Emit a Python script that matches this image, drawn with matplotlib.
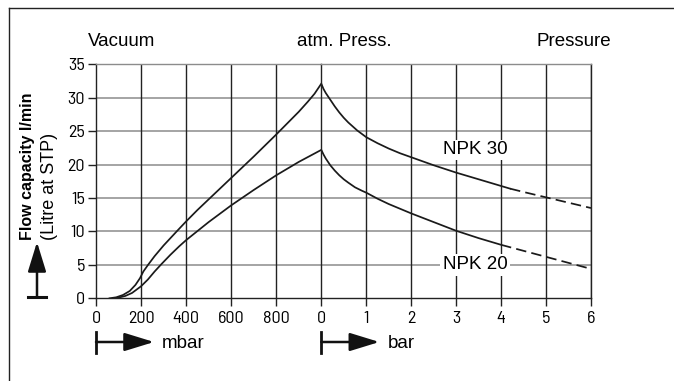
import matplotlib.pyplot as plt
from matplotlib.lines import Line2D
from matplotlib.patches import FancyArrowPatch

# NPK 30 - vacuum side (mbar) and pressure side (bar)
npk30_vac_mbar = [60, 90, 120, 150, 175, 195, 210, 231, 260, 300, 358, 400, 450, 500, 600, 700,
                  800, 850, 900, 940, 970, 1000]
npk30_vac_flow = [0, 0.15, 0.5, 1.1, 2.0, 3.0, 4.0, 5.0, 6.3, 7.9, 10.0, 11.5, 13.2, 14.8, 18.0,
                  21.2, 24.5, 26.2, 27.9, 29.4, 30.6, 32.1]
npk30_bar = [0, 0.05, 0.1, 0.2, 0.3, 0.4, 0.5, 0.6, 0.7, 0.8, 0.9, 1, 1.25, 1.5, 1.75, 2, 2.5,
             3, 3.5, 4, 4.2]
npk30_bar_flow = [32.1, 31.3, 30.7, 29.7, 28.7, 27.8, 27.0, 26.3, 25.7, 25.1, 24.6, 24.1, 23.2,
                  22.4, 21.7, 21.1, 19.9, 18.8, 17.8, 16.8, 16.4]
npk30_ext_bar = [4.2, 4.5, 5, 5.5, 6]
npk30_ext_flow = [16.4, 15.9, 15.1, 14.3, 13.5]

# NPK 20
npk20_vac_mbar = [76, 100, 130, 160, 200, 230, 260, 290, 330, 370, 400, 500, 600, 700, 800, 900,
                  950, 1000]
npk20_vac_flow = [0, 0.1, 0.35, 0.8, 1.8, 2.8, 4.0, 5.1, 6.5, 7.8, 8.7, 11.4, 13.9, 16.2, 18.4,
                  20.4, 21.3, 22.2]
npk20_bar = [0, 0.05, 0.1, 0.2, 0.3, 0.4, 0.5, 0.6, 0.75, 0.9, 1, 1.25, 1.5, 1.75, 2, 2.5, 3,
             3.5, 4]
npk20_bar_flow = [22.2, 21.5, 20.9, 19.9, 19.1, 18.4, 17.8, 17.3, 16.6, 16.1, 15.8, 14.9, 14.1,
                  13.4, 12.7, 11.4, 10.1, 9.0, 8.0]
npk20_ext_bar = [4, 4.5, 5, 5.5, 6]
npk20_ext_flow = [8.0, 7.1, 6.2, 5.3, 4.4]

mbar_ticks = [0, 200, 400, 600, 800]
bar_ticks = [0, 1, 2, 3, 4, 5, 6]
y_ticks = [0, 5, 10, 15, 20, 25, 30, 35]

W, H = 674, 381
plt.rcParams['font.family'] = ['Liberation Sans', 'DejaVu Sans']
tick_font = 'Barlow Semi Condensed'

fig = plt.figure(figsize=(W / 100, H / 100), dpi=100)


def px_axes(x0, y0, x1, y1):
    # pixel box (top-left origin) -> figure fraction
    return fig.add_axes([x0 / W, 1 - y1 / H, (x1 - x0) / W, (y1 - y0) / H])


ax1 = px_axes(96, 64.3, 321.3, 298.3)
ax2 = px_axes(321.3, 64.3, 591, 298.3)

line_kw = dict(color='#1a1a1a', lw=1.25)
ax1.plot(npk30_vac_mbar, npk30_vac_flow, **line_kw)
ax1.plot(npk20_vac_mbar, npk20_vac_flow, **line_kw)
ax2.plot(npk30_bar, npk30_bar_flow, **line_kw)
ax2.plot(npk20_bar, npk20_bar_flow, **line_kw)
ax2.plot(npk30_ext_bar, npk30_ext_flow, ls=(0, (6, 3)), **line_kw)
ax2.plot(npk20_ext_bar, npk20_ext_flow, ls=(0, (6, 3)), **line_kw)

for ax, xmax, ticks in [(ax1, 1000, mbar_ticks), (ax2, 6, bar_ticks)]:
    ax.set_xlim(0, xmax)
    ax.set_ylim(0, 35)
    ax.set_xticks(ticks)
    ax.set_yticks(y_ticks)
    ax.tick_params(axis='x', length=6, width=1, color='#222', pad=3, labelsize=13,
                   labelfontfamily=tick_font)
    ax.tick_params(axis='y', length=6, width=1, color='#222', pad=2, labelsize=13,
                   labelfontfamily=tick_font)
    for y in y_ticks[1:-1]:
        ax.axhline(y, color='#8c8c8c', lw=1.1, zorder=0)
    for x in ticks[1:]:
        ax.axvline(x, color='#222', lw=1.0, zorder=0)
    ax.spines['top'].set_color('#8c8c8c')
    for side in ['bottom', 'left', 'right']:
        ax.spines[side].set_color('#222')
    for s in ax.spines.values():
        s.set_linewidth(1.0)
    ax.patch.set_alpha(0)

ax1.spines['right'].set_visible(False)
ax2.tick_params(axis='y', left=False, labelleft=False)

ax2.text(3.42, 22.2, 'NPK 30', fontsize=13.5, ha='center', va='center',
         bbox=dict(fc='white', ec='none', pad=1))
ax2.text(3.42, 5.0, 'NPK 20', fontsize=13.5, ha='center', va='center',
         bbox=dict(fc='white', ec='none', pad=2))

# headings above the chart
fig.text(88 / W, 1 - 42 / H, 'Vacuum', fontsize=13.5, ha='left', va='center')
fig.text(344 / W, 1 - 42 / H, 'atm. Press.', fontsize=13.5, ha='center', va='center')
fig.text(537 / W, 1 - 42 / H, 'Pressure', fontsize=13.5, ha='left', va='center')

# y axis label
fig.text(28 / W, 1 - 240 / H, 'Flow capacity l/min', fontsize=11.5, fontweight='bold',
         rotation=90, ha='center', va='bottom')
fig.text(49 / W, 1 - 240 / H, '(Litre at STP)', fontsize=13,
         rotation=90, ha='center', va='bottom')

arrow_kw = dict(arrowstyle='-|>,head_length=1.3,head_width=0.4', color='#111', lw=1.8,
                shrinkA=0, shrinkB=0, mutation_scale=14, transform=fig.transFigure)
fig.add_artist(Line2D([28 / W, 46 / W], [1 - 297 / H] * 2, color='#111', lw=2.2))
fig.add_artist(FancyArrowPatch((37 / W, 1 - 297 / H), (37 / W, 1 - 242 / H), **arrow_kw))

# unit arrows below the x axis
for x0, label in [(96, 'mbar'), (321.3, 'bar')]:
    fig.add_artist(Line2D([x0 / W] * 2, [1 - 332 / H, 1 - 353 / H], color='#111', lw=2.0))
    fig.add_artist(FancyArrowPatch((x0 / W, 1 - 342 / H), ((x0 + 58) / W, 1 - 342 / H),
                                   **arrow_kw))
    fig.text((x0 + 66) / W, 1 - 344 / H, label, fontsize=13.5, ha='left', va='center')

# frame lines (top and left)
fig.add_artist(Line2D([9 / W, 1], [1 - 7.5 / H] * 2, color='#222', lw=1.0))
fig.add_artist(Line2D([9 / W] * 2, [0, 1 - 7.5 / H], color='#222', lw=1.0))

fig.savefig('out.png', dpi=100)
